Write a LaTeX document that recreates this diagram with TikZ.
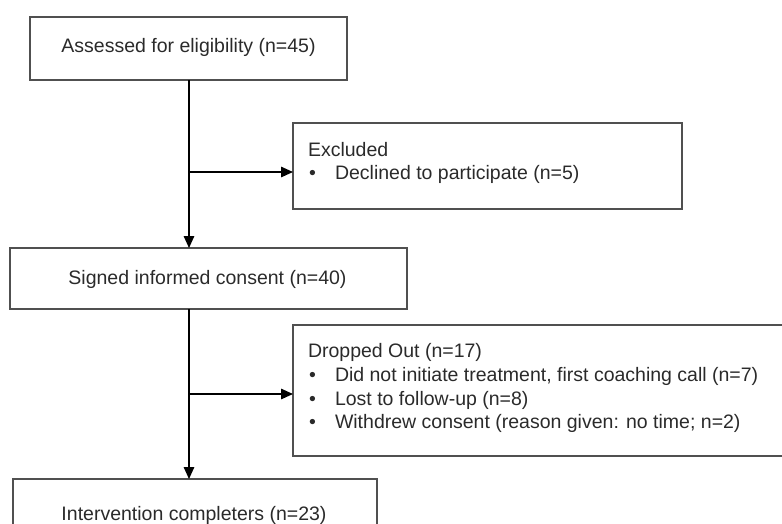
\documentclass[tikz,border=0pt]{standalone}
\usepackage{fontspec}
\setmainfont{Liberation Sans}
\usetikzlibrary{arrows.meta}
\definecolor{boxgray}{HTML}{505050}
\definecolor{txtgray}{HTML}{2A2A2A}
\begin{document}
\begin{tikzpicture}[x=1pt,y=-1pt,
  box/.style={draw=boxgray, line width=1.5pt, rectangle, inner sep=0pt, outer sep=0pt},
  txt/.style={inner sep=0pt, outer sep=0pt, text=txtgray, font=\fontsize{19.5}{23.5}\selectfont},
  arr/.style={draw=black, line width=1.5pt, -{Triangle[length=12pt,width=10.5pt]}}]
\useasboundingbox (0,0) rectangle (782,523);
\clip (0,0) rectangle (782,523);
% boxes
\node[box, minimum width=317pt, minimum height=63pt] (assess) at (188.5,48.5) {};
\node[box, minimum width=389pt, minimum height=86pt] (excl) at (487.5,166) {};
\node[box, minimum width=397pt, minimum height=61pt] (signed) at (208.5,278.5) {};
\node[box, minimum width=507pt, minimum height=131pt] (drop) at (546.5,390.5) {};
\node[box, minimum width=364pt, minimum height=90pt] (compl) at (195,524) {};
% texts
\node[txt, anchor=base] (t1) at (188.5,52) {Assessed for eligibility (n=45)};
\node[txt, anchor=base west] (t2a) at (308,156) {Excluded};
\node[txt, anchor=base west] (t2b) at (309,179) {•};
\node[txt, anchor=base west] (t2c) at (335,179) {Declined to participate (n=5)};
\node[txt, anchor=base] (t3) at (207.5,284) {Signed informed consent (n=40)};
\node[txt, anchor=base west] (t4a) at (308,357) {Dropped Out (n=17)};
\node[txt, anchor=base west] (t4b) at (309,381.5) {•};
\node[txt, anchor=base west] (t4c) at (335,381.5) {Did not initiate treatment, first coaching call (n=7)};
\node[txt, anchor=base west] (t4d) at (309,405) {•};
\node[txt, anchor=base west] (t4e) at (335,405) {Lost to follow-up (n=8)};
\node[txt, anchor=base west] (t4f) at (309,428) {•};
\node[txt, anchor=base west] (t4g) at (335,428) {Withdrew consent (reason given: no time; n=2)};
\node[txt, anchor=base] (t5) at (194,520) {Intervention completers (n=23)};
% connectors
\coordinate (b1) at (189,172);
\coordinate (b2) at (189,394);
\draw[arr] (assess.south -| b1) -- (signed.north -| b1);
\draw[arr] (b1) -- (b1 -| excl.west);
\draw[arr] (signed.south -| b2) -- (compl.north -| b2);
\draw[arr] (b2) -- (b2 -| drop.west);
\end{tikzpicture}
\end{document}
